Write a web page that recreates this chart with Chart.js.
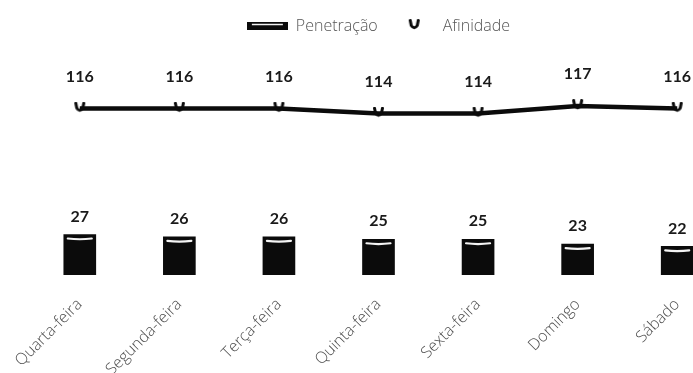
<!DOCTYPE html>
<html>
<head>
<meta charset="utf-8">
<script src="https://cdn.jsdelivr.net/npm/chart.js@4/dist/chart.umd.min.js"></script>
<style>
  html, body { margin: 0; padding: 0; background: #fff; overflow: hidden; }
  #wrap { position: absolute; left: 0; top: 0; width: 740px; height: 373px; }
</style>
</head>
<body>
<div id="wrap"><canvas id="c" width="740" height="373"></canvas></div>
<script>
// Days of the week, ordered by penetration
const days = ['Quarta-feira', 'Segunda-feira', 'Terça-feira', 'Quinta-feira', 'Sexta-feira', 'Domingo', 'Sábado'];
// Penetração (%)
const penetracao = [27, 26, 26, 25, 25, 23, 22];
// Afinidade (índice)
const afinidade = [116, 116, 116, 114, 114, 117, 116];

const labelFont = "'Open Sans', 'DejaVu Sans', sans-serif";
const valueFont = "Lato, 'Liberation Sans', sans-serif";

// Legend swatch for the bar series: black box with a light sheen
function barSwatch() {
  const c = document.createElement('canvas');
  c.width = 41; c.height = 8;
  const g = c.getContext('2d');
  g.fillStyle = '#0b0b0b';
  g.fillRect(0, 0, 41, 8);
  g.strokeStyle = '#f2f2f2';
  g.lineWidth = 1.5;
  g.beginPath(); g.moveTo(5, 2.5); g.lineTo(36, 2.5); g.stroke();
  return c;
}

// Cup-shaped point marker used for the line
function cupMarker() {
  const c = document.createElement('canvas');
  c.width = 13; c.height = 14;
  const g = c.getContext('2d');
  g.strokeStyle = '#0b0b0b';
  g.lineWidth = 3;
  g.lineCap = 'round';
  g.lineJoin = 'round';
  g.beginPath();
  g.moveTo(2.5, 1.5);
  g.lineTo(3.5, 6.5);
  g.quadraticCurveTo(6.5, 11, 9.5, 6.5);
  g.lineTo(10.5, 1.5);
  g.stroke();
  return c;
}

// Sheen line near the top of each bar
const barSheen = {
  id: 'barSheen',
  afterDatasetsDraw(chart) {
    const meta = chart.getDatasetMeta(1);
    const ctx = chart.ctx;
    ctx.save();
    ctx.strokeStyle = '#f4f4f4';
    ctx.lineWidth = 2.2;
    ctx.lineCap = 'round';
    meta.data.forEach(bar => {
      const half = bar.width / 2;
      const y = bar.y + 4;
      ctx.beginPath();
      ctx.moveTo(bar.x - half + 4, y);
      ctx.quadraticCurveTo(bar.x, y + 1.5, bar.x + half - 4, y);
      ctx.stroke();
    });
    ctx.restore();
  }
};

// Value labels above points and bars
const valueLabels = {
  id: 'valueLabels',
  afterDatasetsDraw(chart) {
    const ctx = chart.ctx;
    ctx.save();
    ctx.font = 'bold 16px ' + valueFont;
    ctx.fillStyle = '#1a1a1a';
    ctx.textAlign = 'center';
    ctx.textBaseline = 'middle';
    chart.data.datasets.forEach((ds, di) => {
      const meta = chart.getDatasetMeta(di);
      const lift = ds.type === 'line' ? 32 : 18;
      meta.data.forEach((el, i) => {
        ctx.fillText(String(ds.data[i]), el.x, el.y - lift);
      });
    });
    ctx.restore();
  }
};

const cup = cupMarker();

new Chart(document.getElementById('c'), {
  data: {
    labels: days,
    datasets: [
      {
        type: 'line',
        label: 'Afinidade',
        data: afinidade,
        yAxisID: 'yLine',
        borderColor: '#0b0b0b',
        borderWidth: 4.5,
        tension: 0,
        pointStyle: cup,
        pointRadius: 7,
        order: 0
      },
      {
        type: 'bar',
        label: 'Penetração',
        data: penetracao,
        yAxisID: 'yBar',
        backgroundColor: '#0b0b0b',
        barThickness: 32,
        pointStyle: barSwatch(),
        order: 1
      }
    ]
  },
  options: {
    responsive: false,
    animation: false,
    layout: { padding: { left: 30, right: 13, top: 2, bottom: 0 } },
    plugins: {
      tooltip: { enabled: false },
      legend: {
        position: 'top',
        reverse: true,
        labels: {
          usePointStyle: true,
          pointStyleWidth: 41,
          boxHeight: 8,
          padding: 16,
          color: '#555',
          font: { family: labelFont, size: 16, weight: '300' }
        }
      }
    },
    scales: {
      x: {
        grid: { display: false },
        border: { display: false },
        ticks: {
          color: '#4d4d4d',
          font: { family: labelFont, size: 16, weight: '300' },
          maxRotation: 45,
          minRotation: 45,
          padding: 12
        },
        afterFit(scale) { scale.height = 98; }
      },
      yBar: {
        display: false,
        position: 'left',
        min: 10,
        max: 107
      },
      yLine: {
        display: false,
        position: 'right',
        min: 49,
        max: 142,
        grid: { display: false }
      }
    }
  },
  plugins: [barSheen, valueLabels]
});
</script>
</body>
</html>
